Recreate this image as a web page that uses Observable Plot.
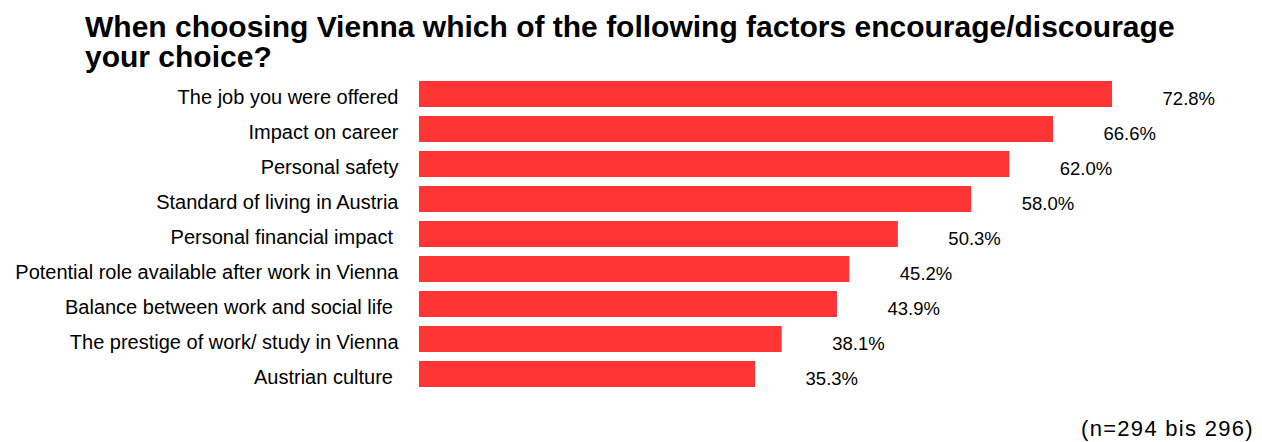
<!DOCTYPE html>
<html>
<head>
<meta charset="utf-8">
<script src="https://cdn.jsdelivr.net/npm/d3@7"></script>
<script src="https://cdn.jsdelivr.net/npm/@observablehq/plot@0.6"></script>
<style>
  html, body { margin: 0; padding: 0; background: #fff; }
  body { width: 1262px; height: 442px; position: relative; overflow: hidden; font-family: "Liberation Sans", Arial, sans-serif; }
  #title { position: absolute; left: 85px; top: 12px; font-size: 30px; line-height: 30px; font-weight: bold; color: #000; white-space: nowrap; }
  #caption { position: absolute; right: 8px; top: 417px; font-size: 22px; line-height: 24px; letter-spacing: 1.3px; color: #000; white-space: nowrap; }
  #chart { position: absolute; left: 0; top: 0; }
  #chart svg text { white-space: pre; }
</style>
</head>
<body>
<div id="chart"></div>
<div id="title">When choosing Vienna which of the following factors encourage/discourage<br>your choice?</div>
<div id="caption">(n=294 bis 296)</div>
<script>
const categories = [
  "The job you were offered",
  "Impact on career",
  "Personal safety",
  "Standard of living in Austria",
  "Personal financial impact ",
  "Potential role available after work in Vienna",
  "Balance between work and social life ",
  "The prestige of work/ study in Vienna",
  "Austrian culture "
];
const values = [72.8, 66.6, 62.0, 58.0, 50.3, 45.2, 43.9, 38.1, 35.3];
const valueLabels = ["72.8%", "66.6%", "62.0%", "58.0%", "50.3%", "45.2%", "43.9%", "38.1%", "35.3%"];

const data = categories.map((c, i) => ({category: c, value: values[i], label: valueLabels[i]}));

const chart = Plot.plot({
  width: 1262,
  height: 442,
  margin: 0,
  style: {fontFamily: '"Liberation Sans", Arial, sans-serif', background: "transparent", color: "#000"},
  x: {domain: [0, 80], range: [419, 419 + 80 * 9.52], axis: null},
  y: {domain: categories, range: [79, 390], paddingInner: 0.245, paddingOuter: 0, axis: null},
  marks: [
    Plot.barX(data, {x: "value", y: "category", fill: "#ff3434"}),
    Plot.text(data, {x: 0, y: "category", text: "category", textAnchor: "end", dx: -21, dy: 3.5, fontSize: 20, fill: "#000"}),
    Plot.text(data, {x: "value", y: "category", text: "label", textAnchor: "start", dx: 50, dy: 4.6, fontSize: 18.5, fill: "#000", letterSpacing: "-0.4px"})
  ]
});
chart.querySelectorAll("text").forEach(t => t.setAttribute("xml:space", "preserve"));
document.getElementById("chart").appendChild(chart);
</script>
</body>
</html>
